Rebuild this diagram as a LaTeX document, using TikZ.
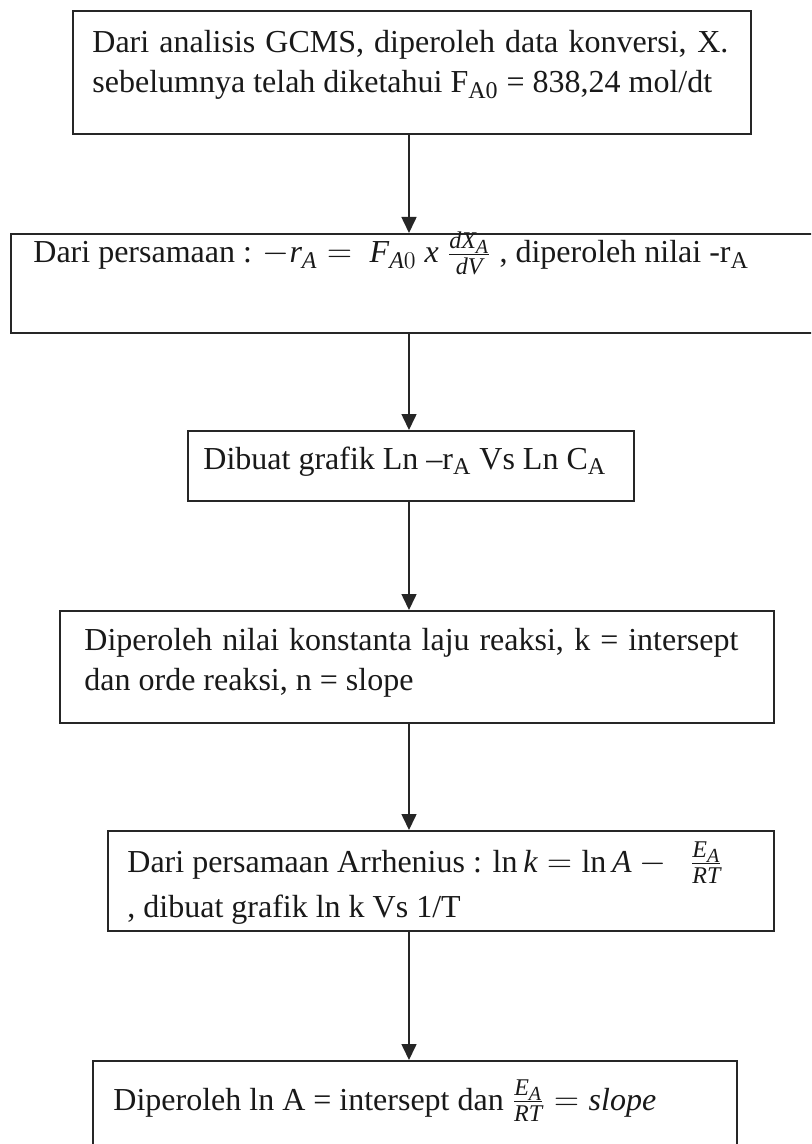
\documentclass[tikz,border=0pt]{standalone}
\usepackage{fontspec}
\setmainfont{Liberation Serif}
\usetikzlibrary{arrows.meta}
% fractions and indices a little larger than the TeX default
\DeclareMathSizes{16}{16}{12}{10}

% one unit = one pixel of the 811 x 1144 page, y grows downwards
\tikzset{
  x=0.5pt, y=-0.5pt,
  frame/.style={draw=black!85, line width=1.1pt, rectangle, inner sep=0pt, anchor=north west},
  lbl/.style={anchor=base west, inner sep=0pt, font=\fontsize{16}{20}\selectfont, text=black!90},
  flow/.style={draw=black!85, line width=0.8pt, -{Triangle[length=8pt,width=7.5pt]}},
}

\begin{document}
\begin{tikzpicture}
  \useasboundingbox (0,0) rectangle (811,1144);
  \clip (0,0) rectangle (811,1144);
  \fill[white] (0,0) rectangle (811,1144);

  % process boxes
  \node[frame, minimum width=339pt,   minimum height=61.5pt] (b1) at (72,10)   {};
  \node[frame, minimum width=402.5pt, minimum height=49.5pt] (b2) at (10,233)  {};
  \node[frame, minimum width=223pt,   minimum height=35pt]   (b3) at (187,430) {};
  \node[frame, minimum width=357pt,   minimum height=56pt]   (b4) at (59,610)  {};
  \node[frame, minimum width=333pt,   minimum height=50pt]   (b5) at (107,830) {};
  \node[frame, minimum width=322pt,   minimum height=50pt]   (b6) at (92,1060) {};

  % box texts
  \node[lbl, text width=318pt, align=justify] (t1) at (92,53)
    {Dari analisis GCMS, diperoleh data konversi, X. sebelumnya telah diketahui F\textsubscript{A0} = 838,24 mol/dt};
  \node[lbl] (t2) at (33,263)
    {Dari persamaan : $-\mathit{r}_{\mathit{A}} =\ \mathit{F}_{\mathit{A}0}\ \mathit{x}\ \frac{\mathit{dX}_{\mathit{A}}}{\mathit{dV}}$ , diperoleh nilai -r\textsubscript{A}};
  \node[lbl] (t3) at (203,469)
    {Dibuat grafik Ln –r\textsubscript{A} Vs Ln C\textsubscript{A}};
  \node[lbl, text width=327pt, align=justify] (t4) at (84,650)
    {Diperoleh nilai konstanta laju reaksi, k = intersept dan orde reaksi, n = slope};
  \node[lbl] (t5a) at (127,872)
    {Dari persamaan Arrhenius : $\ln \mathit{k} = \ln \mathit{A} -\ \ \frac{\mathit{E}_{\mathit{A}}}{\mathit{RT}}$};
  \node[lbl] (t5b) at (127,917)
    {, dibuat grafik ln k Vs 1/T};
  \node[lbl] (t6) at (113,1110)
    {Diperoleh ln A = intersept dan $\frac{\mathit{E}_{\mathit{A}}}{\mathit{RT}} = \mathit{slope}$};

  % connectors along the common vertical
  \coordinate (ax) at (409,0);
  \draw[flow] (b1.south -| ax) -- (b2.north -| ax);
  \draw[flow] (b2.south -| ax) -- (b3.north -| ax);
  \draw[flow] (b3.south -| ax) -- (b4.north -| ax);
  \draw[flow] (b4.south -| ax) -- (b5.north -| ax);
  \draw[flow] (b5.south -| ax) -- (b6.north -| ax);
\end{tikzpicture}
\end{document}
